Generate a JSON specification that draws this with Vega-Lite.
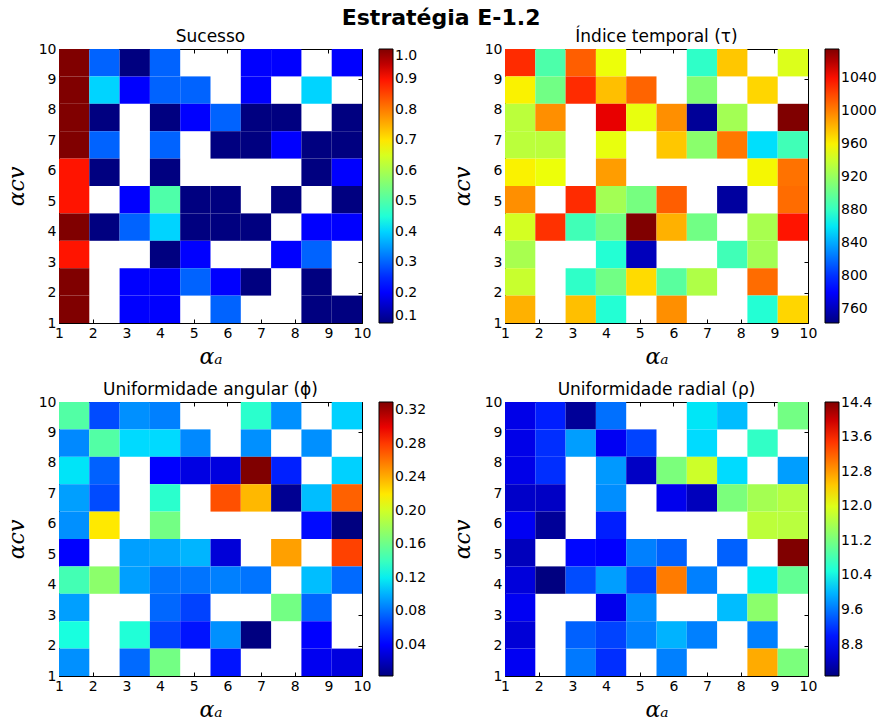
{
  "$schema": "https://vega.github.io/schema/vega-lite/v6.json",
  "title": {"text": "Estratégia E-1.2", "fontSize": 22, "fontWeight": "bold", "font": "DejaVu Sans", "anchor": "middle", "color": "black", "offset": -2},
  "padding": {"left": 5, "top": 6, "right": 5, "bottom": 0},
  "datasets": {
    "grid": [
      {"a": 1, "cv": 10, "s": 1.0, "tau": 1030, "phi": 0.150, "rho": 8.64},
      {"a": 2, "cv": 10, "s": 0.3, "tau": 890, "phi": 0.068, "rho": 9.05},
      {"a": 3, "cv": 10, "s": 0.1, "tau": 1012, "phi": 0.090, "rho": 8.20},
      {"a": 4, "cv": 10, "s": 0.3, "tau": 955, "phi": 0.085, "rho": 9.56},
      {"a": 7, "cv": 10, "s": 0.2, "tau": 878, "phi": 0.134, "rho": 10.29},
      {"a": 8, "cv": 10, "s": 0.2, "tau": 975, "phi": 0.090, "rho": 10.04},
      {"a": 10, "cv": 10, "s": 0.2, "tau": 948, "phi": 0.111, "rho": 11.18},
      {"a": 1, "cv": 9, "s": 1.0, "tau": 960, "phi": 0.088, "rho": 8.64},
      {"a": 2, "cv": 9, "s": 0.4, "tau": 905, "phi": 0.150, "rho": 9.15},
      {"a": 3, "cv": 9, "s": 0.2, "tau": 1030, "phi": 0.114, "rho": 9.85},
      {"a": 4, "cv": 9, "s": 0.3, "tau": 978, "phi": 0.114, "rho": 8.70},
      {"a": 5, "cv": 9, "s": 0.3, "tau": 1010, "phi": 0.088, "rho": 9.28},
      {"a": 7, "cv": 9, "s": 0.2, "tau": 912, "phi": 0.090, "rho": 10.23},
      {"a": 9, "cv": 9, "s": 0.4, "tau": 970, "phi": 0.090, "rho": 10.67},
      {"a": 1, "cv": 8, "s": 1.0, "tau": 935, "phi": 0.117, "rho": 8.64},
      {"a": 2, "cv": 8, "s": 0.1, "tau": 995, "phi": 0.075, "rho": 9.15},
      {"a": 4, "cv": 8, "s": 0.1, "tau": 1045, "phi": 0.042, "rho": 9.82},
      {"a": 5, "cv": 8, "s": 0.2, "tau": 953, "phi": 0.031, "rho": 8.45},
      {"a": 6, "cv": 8, "s": 0.3, "tau": 995, "phi": 0.030, "rho": 11.24},
      {"a": 7, "cv": 8, "s": 0.1, "tau": 750, "phi": 0.330, "rho": 11.88},
      {"a": 8, "cv": 8, "s": 0.1, "tau": 925, "phi": 0.054, "rho": 10.23},
      {"a": 10, "cv": 8, "s": 0.1, "tau": 1075, "phi": 0.111, "rho": 9.85},
      {"a": 1, "cv": 7, "s": 1.0, "tau": 935, "phi": 0.095, "rho": 8.47},
      {"a": 2, "cv": 7, "s": 0.3, "tau": 935, "phi": 0.068, "rho": 8.45},
      {"a": 4, "cv": 7, "s": 0.3, "tau": 953, "phi": 0.134, "rho": 9.75},
      {"a": 6, "cv": 7, "s": 0.1, "tau": 975, "phi": 0.273, "rho": 8.67},
      {"a": 7, "cv": 7, "s": 0.1, "tau": 915, "phi": 0.237, "rho": 8.40},
      {"a": 8, "cv": 7, "s": 0.2, "tau": 1003, "phi": 0.008, "rho": 11.24},
      {"a": 9, "cv": 7, "s": 0.1, "tau": 857, "phi": 0.105, "rho": 11.56},
      {"a": 10, "cv": 7, "s": 0.1, "tau": 885, "phi": 0.267, "rho": 11.70},
      {"a": 1, "cv": 6, "s": 0.9, "tau": 960, "phi": 0.090, "rho": 8.70},
      {"a": 2, "cv": 6, "s": 0.1, "tau": 955, "phi": 0.220, "rho": 8.20},
      {"a": 4, "cv": 6, "s": 0.1, "tau": 990, "phi": 0.163, "rho": 9.05},
      {"a": 9, "cv": 6, "s": 0.1, "tau": 958, "phi": 0.047, "rho": 11.75},
      {"a": 10, "cv": 6, "s": 0.2, "tau": 1005, "phi": 0.003, "rho": 11.72},
      {"a": 1, "cv": 5, "s": 0.9, "tau": 995, "phi": 0.042, "rho": 8.40},
      {"a": 3, "cv": 5, "s": 0.2, "tau": 1030, "phi": 0.095, "rho": 8.90},
      {"a": 4, "cv": 5, "s": 0.5, "tau": 925, "phi": 0.097, "rho": 8.80},
      {"a": 5, "cv": 5, "s": 0.1, "tau": 907, "phi": 0.102, "rho": 9.66},
      {"a": 6, "cv": 5, "s": 0.1, "tau": 1012, "phi": 0.028, "rho": 9.47},
      {"a": 8, "cv": 5, "s": 0.1, "tau": 752, "phi": 0.245, "rho": 9.47},
      {"a": 10, "cv": 5, "s": 0.1, "tau": 1007, "phi": 0.278, "rho": 14.42},
      {"a": 1, "cv": 4, "s": 1.0, "tau": 945, "phi": 0.144, "rho": 8.57},
      {"a": 2, "cv": 4, "s": 0.1, "tau": 1028, "phi": 0.173, "rho": 8.07},
      {"a": 3, "cv": 4, "s": 0.3, "tau": 885, "phi": 0.095, "rho": 9.34},
      {"a": 4, "cv": 4, "s": 0.4, "tau": 905, "phi": 0.081, "rho": 9.85},
      {"a": 5, "cv": 4, "s": 0.1, "tau": 1075, "phi": 0.081, "rho": 9.28},
      {"a": 6, "cv": 4, "s": 0.1, "tau": 983, "phi": 0.085, "rho": 13.02},
      {"a": 7, "cv": 4, "s": 0.1, "tau": 905, "phi": 0.081, "rho": 9.66},
      {"a": 9, "cv": 4, "s": 0.2, "tau": 927, "phi": 0.105, "rho": 10.29},
      {"a": 10, "cv": 4, "s": 0.2, "tau": 1038, "phi": 0.078, "rho": 11.05},
      {"a": 1, "cv": 3, "s": 0.9, "tau": 927, "phi": 0.095, "rho": 8.70},
      {"a": 4, "cv": 3, "s": 0.1, "tau": 873, "phi": 0.077, "rho": 8.67},
      {"a": 5, "cv": 3, "s": 0.2, "tau": 760, "phi": 0.065, "rho": 9.75},
      {"a": 8, "cv": 3, "s": 0.2, "tau": 885, "phi": 0.163, "rho": 10.04},
      {"a": 9, "cv": 3, "s": 0.3, "tau": 925, "phi": 0.077, "rho": 11.37},
      {"a": 1, "cv": 2, "s": 1.0, "tau": 940, "phi": 0.127, "rho": 8.55},
      {"a": 3, "cv": 2, "s": 0.2, "tau": 878, "phi": 0.130, "rho": 9.47},
      {"a": 4, "cv": 2, "s": 0.2, "tau": 905, "phi": 0.065, "rho": 9.28},
      {"a": 5, "cv": 2, "s": 0.3, "tau": 968, "phi": 0.050, "rho": 9.66},
      {"a": 6, "cv": 2, "s": 0.2, "tau": 895, "phi": 0.090, "rho": 9.98},
      {"a": 7, "cv": 2, "s": 0.1, "tau": 930, "phi": 0.003, "rho": 9.66},
      {"a": 9, "cv": 2, "s": 0.1, "tau": 1007, "phi": 0.042, "rho": 9.66},
      {"a": 1, "cv": 1, "s": 1.0, "tau": 983, "phi": 0.090, "rho": 8.70},
      {"a": 3, "cv": 1, "s": 0.2, "tau": 978, "phi": 0.078, "rho": 9.62},
      {"a": 4, "cv": 1, "s": 0.2, "tau": 873, "phi": 0.163, "rho": 9.15},
      {"a": 6, "cv": 1, "s": 0.3, "tau": 995, "phi": 0.050, "rho": 9.66},
      {"a": 9, "cv": 1, "s": 0.1, "tau": 873, "phi": 0.035, "rho": 12.70},
      {"a": 10, "cv": 1, "s": 0.1, "tau": 970, "phi": 0.030, "rho": 11.24}
    ]
  },
  "data": {"name": "grid"},
  "columns": 2,
  "spacing": {"row": 13, "column": 24},
  "concat": [
    {
      "title": {"text": "Sucesso", "frame": "group", "anchor": "middle", "fontSize": 17, "fontWeight": "normal", "offset": -3.5, "color": "black", "font": "DejaVu Sans"},
      "width": 303, "height": 274,
      "layer": [
        {"mark": {"type": "rect"}, "encoding": {
          "x": {"field": "a", "type": "ordinal", "axis": null, "scale": {"domain": [1,2,3,4,5,6,7,8,9,10], "paddingInner": 0, "paddingOuter": 0}},
          "y": {"field": "cv", "type": "ordinal", "axis": null, "scale": {"domain": [10,9,8,7,6,5,4,3,2,1], "paddingInner": 0, "paddingOuter": 0}},
          "color": {"field": "s", "type": "quantitative",
            "scale": {"type": "linear", "domain": [0.1, 0.199, 0.2125, 0.406, 0.415, 0.4375, 0.676, 0.685, 0.694, 0.901, 0.919, 1.0],
              "range": ["#000080","#0000ff","#0000ff","#00dbff","#00e6f7","#15ffe2","#eeff08","#f7f500","#ffec00","#ff1300","#e80000","#800000"], "interpolate": "rgb", "clamp": true},
            "legend": {"title": null, "values": [0.1,0.2,0.3,0.4,0.5,0.6,0.7,0.8,0.9,1.0], "format": ".1f", "gradientLength": 274, "gradientThickness": 14, "offset": 16}}
        }},
        {"mark": {"type": "point", "opacity": 0}, "encoding": {
          "x": {"field": "a", "type": "quantitative", "scale": {"domain": [1,10], "nice": false, "zero": false}, "axis": {"orient": "bottom", "values": [1,2,3,4,5,6,7,8,9,10], "format": "d", "title": "αₐ"}},
          "y": {"field": "cv", "type": "quantitative", "scale": {"domain": [1,10], "nice": false, "zero": false}, "axis": {"orient": "left", "values": [1,2,3,4,5,6,7,8,9,10], "format": "d", "title": "αcv"}}
        }},
        {"mark": {"type": "point", "opacity": 0}, "encoding": {
          "x": {"field": "a", "type": "quantitative", "scale": {"domain": [1,10], "nice": false, "zero": false}, "axis": {"orient": "top", "values": [1,2,3,4,5,6,7,8,9,10], "labels": false, "title": null}},
          "y": {"field": "cv", "type": "quantitative", "scale": {"domain": [1,10], "nice": false, "zero": false}, "axis": {"orient": "right", "values": [1,2,3,4,5,6,7,8,9,10], "labels": false, "title": null}}
        }}
      ],
      "resolve": {"scale": {"x": "independent", "y": "independent"}}
    },
    {
      "title": {"text": "Índice temporal (τ)", "frame": "group", "anchor": "middle", "fontSize": 17, "fontWeight": "normal", "offset": -3.5, "color": "black", "font": "DejaVu Sans"},
      "width": 303, "height": 274,
      "layer": [
        {"mark": {"type": "rect"}, "encoding": {
          "x": {"field": "a", "type": "ordinal", "axis": null, "scale": {"domain": [1,2,3,4,5,6,7,8,9,10], "paddingInner": 0, "paddingOuter": 0}},
          "y": {"field": "cv", "type": "ordinal", "axis": null, "scale": {"domain": [10,9,8,7,6,5,4,3,2,1], "paddingInner": 0, "paddingOuter": 0}},
          "color": {"field": "tau", "type": "quantitative",
            "scale": {"type": "linear", "domain": [743, 779.52, 784.5, 855.88, 859.2, 867.5, 955.48, 958.8, 962.12, 1038.48, 1045.12, 1075],
              "range": ["#000080","#0000ff","#0000ff","#00dbff","#00e6f7","#15ffe2","#eeff08","#f7f500","#ffec00","#ff1300","#e80000","#800000"], "interpolate": "rgb", "clamp": true},
            "legend": {"title": null, "values": [760,800,840,880,920,960,1000,1040], "format": "d", "gradientLength": 274, "gradientThickness": 14, "offset": 16}}
        }},
        {"mark": {"type": "point", "opacity": 0}, "encoding": {
          "x": {"field": "a", "type": "quantitative", "scale": {"domain": [1,10], "nice": false, "zero": false}, "axis": {"orient": "bottom", "values": [1,2,3,4,5,6,7,8,9,10], "format": "d", "title": "αₐ"}},
          "y": {"field": "cv", "type": "quantitative", "scale": {"domain": [1,10], "nice": false, "zero": false}, "axis": {"orient": "left", "values": [1,2,3,4,5,6,7,8,9,10], "format": "d", "title": "αcv"}}
        }},
        {"mark": {"type": "point", "opacity": 0}, "encoding": {
          "x": {"field": "a", "type": "quantitative", "scale": {"domain": [1,10], "nice": false, "zero": false}, "axis": {"orient": "top", "values": [1,2,3,4,5,6,7,8,9,10], "labels": false, "title": null}},
          "y": {"field": "cv", "type": "quantitative", "scale": {"domain": [1,10], "nice": false, "zero": false}, "axis": {"orient": "right", "values": [1,2,3,4,5,6,7,8,9,10], "labels": false, "title": null}}
        }}
      ],
      "resolve": {"scale": {"x": "independent", "y": "independent"}}
    },
    {
      "title": {"text": "Uniformidade angular (ϕ)", "frame": "group", "anchor": "middle", "fontSize": 17, "fontWeight": "normal", "offset": -3.5, "color": "black", "font": "DejaVu Sans"},
      "width": 303, "height": 274,
      "layer": [
        {"mark": {"type": "rect"}, "encoding": {
          "x": {"field": "a", "type": "ordinal", "axis": null, "scale": {"domain": [1,2,3,4,5,6,7,8,9,10], "paddingInner": 0, "paddingOuter": 0}},
          "y": {"field": "cv", "type": "ordinal", "axis": null, "scale": {"domain": [10,9,8,7,6,5,4,3,2,1], "paddingInner": 0, "paddingOuter": 0}},
          "color": {"field": "phi", "type": "quantitative",
            "scale": {"type": "linear", "domain": [0.003, 0.03897, 0.043875, 0.11418, 0.11745, 0.125625, 0.21228, 0.21555, 0.21882, 0.29403, 0.30057, 0.33],
              "range": ["#000080","#0000ff","#0000ff","#00dbff","#00e6f7","#15ffe2","#eeff08","#f7f500","#ffec00","#ff1300","#e80000","#800000"], "interpolate": "rgb", "clamp": true},
            "legend": {"title": null, "values": [0.04,0.08,0.12,0.16,0.20,0.24,0.28,0.32], "format": ".2f", "gradientLength": 274, "gradientThickness": 14, "offset": 16}}
        }},
        {"mark": {"type": "point", "opacity": 0}, "encoding": {
          "x": {"field": "a", "type": "quantitative", "scale": {"domain": [1,10], "nice": false, "zero": false}, "axis": {"orient": "bottom", "values": [1,2,3,4,5,6,7,8,9,10], "format": "d", "title": "αₐ"}},
          "y": {"field": "cv", "type": "quantitative", "scale": {"domain": [1,10], "nice": false, "zero": false}, "axis": {"orient": "left", "values": [1,2,3,4,5,6,7,8,9,10], "format": "d", "title": "αcv"}}
        }},
        {"mark": {"type": "point", "opacity": 0}, "encoding": {
          "x": {"field": "a", "type": "quantitative", "scale": {"domain": [1,10], "nice": false, "zero": false}, "axis": {"orient": "top", "values": [1,2,3,4,5,6,7,8,9,10], "labels": false, "title": null}},
          "y": {"field": "cv", "type": "quantitative", "scale": {"domain": [1,10], "nice": false, "zero": false}, "axis": {"orient": "right", "values": [1,2,3,4,5,6,7,8,9,10], "labels": false, "title": null}}
        }}
      ],
      "resolve": {"scale": {"x": "independent", "y": "independent"}}
    },
    {
      "title": {"text": "Uniformidade radial (ρ)", "frame": "group", "anchor": "middle", "fontSize": 17, "fontWeight": "normal", "offset": -3.5, "color": "black", "font": "DejaVu Sans"},
      "width": 303, "height": 274,
      "layer": [
        {"mark": {"type": "rect"}, "encoding": {
          "x": {"field": "a", "type": "ordinal", "axis": null, "scale": {"domain": [1,2,3,4,5,6,7,8,9,10], "paddingInner": 0, "paddingOuter": 0}},
          "y": {"field": "cv", "type": "ordinal", "axis": null, "scale": {"domain": [10,9,8,7,6,5,4,3,2,1], "paddingInner": 0, "paddingOuter": 0}},
          "color": {"field": "rho", "type": "quantitative",
            "scale": {"type": "linear", "domain": [8.07, 8.7685, 8.86375, 10.229, 10.2925, 10.45125, 12.134, 12.1975, 12.261, 13.7215, 13.8485, 14.42],
              "range": ["#000080","#0000ff","#0000ff","#00dbff","#00e6f7","#15ffe2","#eeff08","#f7f500","#ffec00","#ff1300","#e80000","#800000"], "interpolate": "rgb", "clamp": true},
            "legend": {"title": null, "values": [8.8,9.6,10.4,11.2,12.0,12.8,13.6,14.4], "format": ".1f", "gradientLength": 274, "gradientThickness": 14, "offset": 16}}
        }},
        {"mark": {"type": "point", "opacity": 0}, "encoding": {
          "x": {"field": "a", "type": "quantitative", "scale": {"domain": [1,10], "nice": false, "zero": false}, "axis": {"orient": "bottom", "values": [1,2,3,4,5,6,7,8,9,10], "format": "d", "title": "αₐ"}},
          "y": {"field": "cv", "type": "quantitative", "scale": {"domain": [1,10], "nice": false, "zero": false}, "axis": {"orient": "left", "values": [1,2,3,4,5,6,7,8,9,10], "format": "d", "title": "αcv"}}
        }},
        {"mark": {"type": "point", "opacity": 0}, "encoding": {
          "x": {"field": "a", "type": "quantitative", "scale": {"domain": [1,10], "nice": false, "zero": false}, "axis": {"orient": "top", "values": [1,2,3,4,5,6,7,8,9,10], "labels": false, "title": null}},
          "y": {"field": "cv", "type": "quantitative", "scale": {"domain": [1,10], "nice": false, "zero": false}, "axis": {"orient": "right", "values": [1,2,3,4,5,6,7,8,9,10], "labels": false, "title": null}}
        }}
      ],
      "resolve": {"scale": {"x": "independent", "y": "independent"}}
    }
  ],
  "resolve": {"scale": {"color": "independent", "x": "independent", "y": "independent"}, "legend": {"color": "independent"}},
  "config": {
    "font": "DejaVu Sans",
    "background": "white",
    "view": {"stroke": null},
    "axis": {
      "grid": false, "domain": true, "domainColor": "black", "domainWidth": 1,
      "ticks": true, "tickColor": "black", "tickSize": -4, "tickWidth": 1,
      "labelFont": "DejaVu Sans", "labelFontSize": 14, "labelColor": "black", "labelPadding": 7, "labelFlush": false, "labelOverlap": false,
      "titleFont": "DejaVu Serif", "titleFontStyle": "italic", "titleFontWeight": "normal", "titleFontSize": 22, "titleColor": "black", "titlePadding": 10,
      "zindex": 1
    },
    "axisBottom": {"titlePadding": 6},
    "legend": {"labelFont": "DejaVu Sans", "labelFontSize": 14, "labelColor": "black", "gradientStrokeColor": "black", "gradientStrokeWidth": 1, "labelOverlap": false, "labelOffset": 5}
  }
}
